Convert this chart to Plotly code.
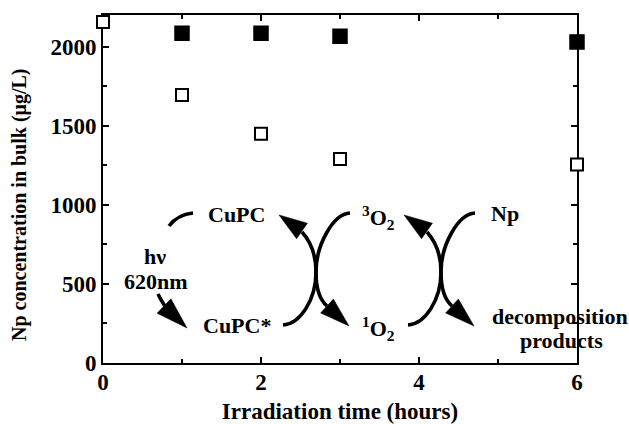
import plotly.graph_objects as go
import math

# ---- data ----
time_filled = [1, 2, 3, 6]
conc_filled = [2085, 2085, 2065, 2030]
time_open = [0, 1, 2, 3, 6]
conc_open = [2155, 1695, 1450, 1290, 1255]
x_ticks = [0, 2, 4, 6]
y_ticks = [0, 500, 1000, 1500, 2000]

# ---- layout geometry ----
W_FIG, H_FIG = 629, 424
L, R, T, B = 103, 52, 15, 61
PW, PH = W_FIG - L - R, H_FIG - T - B
XR, YR = [0, 6], [0, 2200]
FONT = "Liberation Serif, Times New Roman, serif"


def d(px, py):
    """figure pixel -> data coords"""
    return (XR[0] + (px - L) / PW * (XR[1] - XR[0]),
            YR[0] + (T + PH - py) / PH * (YR[1] - YR[0]))


def pstr(pts):
    return " ".join(f"{d(*p)[0]:.5f},{d(*p)[1]:.3f}" for p in pts)


shapes = []
LW = 3.6


def curve(segments):
    path = "M " + pstr([segments[0][0]])
    for s in segments:
        path += " C " + pstr(s[1:])
    shapes.append(dict(type="path", path=path, xref="x", yref="y",
                       line=dict(color="black", width=LW)))


def head(tip, base, hw):
    dx, dy = tip[0] - base[0], tip[1] - base[1]
    n = math.hypot(dx, dy)
    nx, ny = -dy / n, dx / n
    c1 = (base[0] + nx * hw, base[1] + ny * hw)
    c2 = (base[0] - nx * hw, base[1] - ny * hw)
    path = "M " + pstr([tip]) + " L " + pstr([c1]) + " L " + pstr([c2]) + " Z"
    shapes.append(dict(type="path", path=path, xref="x", yref="y",
                       fillcolor="black", line=dict(color="black", width=0.5)))


def xcross(ox):
    curve([((283 + ox, 325), (300 + ox, 324), (316 + ox, 300), (316 + ox, 272)),
           ((316 + ox, 272), (316 + ox, 255), (311 + ox, 242), (302 + ox, 232))])
    head((279 + ox, 215), (302 + ox, 231), 9.5)
    curve([((350 + ox, 213), (333 + ox, 214), (316 + ox, 245), (316 + ox, 272)),
           ((316 + ox, 272), (316 + ox, 290), (320 + ox, 300), (327 + ox, 306))])
    head((349 + ox, 326), (327 + ox, 306), 9.5)


xcross(0)
xcross(125)

curve([((169, 226), (175, 218), (183, 214), (193, 213))])
curve([((158, 294), (160, 298), (162, 302), (165, 306))])
head((187, 328), (164, 306), 10)

annotations = []


def label(txt, px, py, size=22):
    x, y = d(px, py)
    annotations.append(dict(text=txt, x=x, y=y, xref="x", yref="y",
                            showarrow=False, xanchor="center", yanchor="middle",
                            font=dict(size=size, family=FONT, color="black", weight="bold")))


label("CuPC", 236, 214)
label("CuPC*", 237, 325)
label("<sup>3</sup>O<sub>2</sub>", 378, 217)
label("<sup>1</sup>O<sub>2</sub>", 378, 328)
label("Np", 505, 213)
label("hν", 155, 256)
label("620nm", 156, 281)
label("decomposition", 560, 316)
label("products", 561, 340)

# y-axis title (rotated text, slightly below plot centre as in reference)
annotations.append(dict(text="Np concentration in bulk (μg/L)",
                        x=(20 - L) / PW, y=(T + PH - 205) / PH,
                        xref="paper", yref="paper",
                        showarrow=False, textangle=-90, xanchor="center", yanchor="middle",
                        font=dict(size=20, family=FONT, color="black", weight="bold")))

fig = go.Figure()
fig.add_trace(go.Scatter(x=time_filled, y=conc_filled, mode="markers",
                         marker=dict(symbol="square", size=14, color="black",
                                     line=dict(color="black", width=1.5)),
                         cliponaxis=False, showlegend=False))
fig.add_trace(go.Scatter(x=time_open, y=conc_open, mode="markers",
                         marker=dict(symbol="square", size=12, color="white",
                                     line=dict(color="black", width=2)),
                         cliponaxis=False, showlegend=False))

axis_common = dict(showline=True, linecolor="black", linewidth=2, mirror="ticks",
                   ticks="inside", ticklen=6, tickwidth=1.5, tickcolor="black",
                   showgrid=False, zeroline=False, layer="below traces",
                   tickfont=dict(size=23, family=FONT, color="black", weight="bold"))

fig.update_xaxes(range=XR, tickvals=x_ticks, ticktext=[str(v) for v in x_ticks],
                 minor=dict(ticks="inside", ticklen=4, dtick=1, tickwidth=1.5,
                            tickcolor="black", showgrid=False),
                 ticklabelstandoff=-3,
                 title=dict(text="Irradiation time (hours)", standoff=14,
                            font=dict(size=23, family=FONT, color="black", weight="bold")),
                 **axis_common)
fig.update_yaxes(range=YR, tickvals=y_ticks, ticktext=[str(v) for v in y_ticks],
                 minor=dict(ticks="inside", ticklen=4, dtick=250, tickwidth=1.5,
                            tickcolor="black", showgrid=False),
                 **axis_common)

fig.update_layout(width=W_FIG, height=H_FIG,
                  margin=dict(l=L, r=R, t=T, b=B, autoexpand=False),
                  paper_bgcolor="white", plot_bgcolor="white",
                  font=dict(family=FONT, color="black", weight="bold"),
                  shapes=shapes, annotations=annotations)

fig.write_html("out.html")
